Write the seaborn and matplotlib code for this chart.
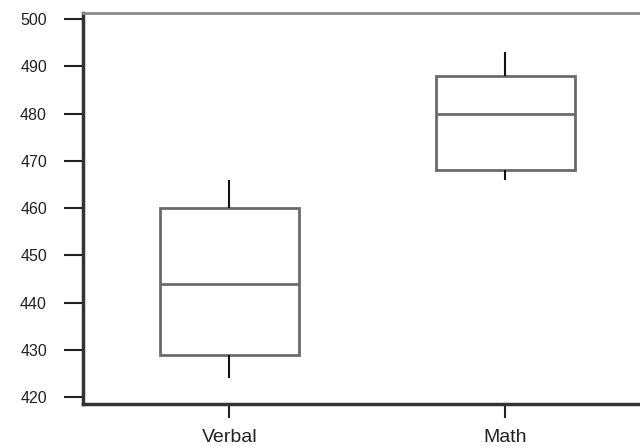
import numpy as np
import pandas as pd
import matplotlib
matplotlib.use("Agg")
import matplotlib.pyplot as plt
import seaborn as sns

categories = ["Verbal", "Math"]
verbal_scores = [424, 429, 444, 460, 466]   # min, Q1, median, Q3, max
math_scores = [466, 468, 480, 488, 493]
y_ticks = [420, 430, 440, 450, 460, 470, 480, 490, 500]

df = pd.DataFrame({
    "subject": [categories[0]] * len(verbal_scores) + [categories[1]] * len(math_scores),
    "score": verbal_scores + math_scores,
})

sns.set_style("white")
plt.rcParams["font.family"] = ["Liberation Sans", "DejaVu Sans"]

fig = plt.figure(figsize=(6.4, 4.46), dpi=100)
ax = fig.add_axes([0.1297, 0.0948, 0.888, 0.8761])

sns.boxplot(data=df, x="subject", y="score", order=categories, ax=ax,
            whis=(0, 100), width=0.504, color="white", linecolor="#6a6a6a",
            linewidth=2, showcaps=False,
            boxprops={"edgecolor": "#6a6a6a", "linewidth": 2, "facecolor": "white"},
            medianprops={"color": "#6a6a6a", "linewidth": 2},
            whiskerprops={"color": "#111111", "linewidth": 1.5})

ax.set_xlim(-0.53, 1.53)
ax.set_ylim(418.6, 501.3)
ax.set_yticks(y_ticks)
ax.set_xlabel("")
ax.set_ylabel("")

for s in ["left", "bottom"]:
    ax.spines[s].set_color("#333333")
    ax.spines[s].set_linewidth(2.5)
ax.spines["top"].set_color("#8a8a8a")
ax.spines["top"].set_linewidth(2)
ax.spines["right"].set_visible(False)

ax.tick_params(axis="y", direction="out", length=14, width=1.5, color="#222222",
               pad=12, labelsize=11.5, labelcolor="#222222", left=True)
ax.tick_params(axis="x", direction="out", length=10, width=1.5, color="#222222",
               pad=8, labelsize=14, labelcolor="#222222", bottom=True)

fig.savefig("out.png", dpi=100)
